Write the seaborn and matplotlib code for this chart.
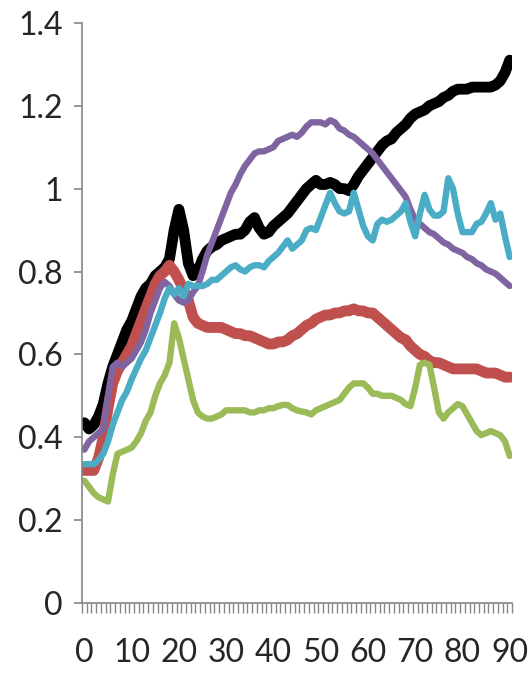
import numpy as np
import matplotlib
matplotlib.use("Agg")
import matplotlib.pyplot as plt
import seaborn as sns

x = list(range(91))

black = [0.435, 0.42, 0.43, 0.45, 0.48, 0.53, 0.57, 0.60, 0.63, 0.66,
         0.68, 0.71, 0.74, 0.76, 0.77, 0.79, 0.80, 0.81, 0.83, 0.90,
         0.95, 0.90, 0.82, 0.79, 0.80, 0.83, 0.85, 0.86, 0.865, 0.875,
         0.88, 0.885, 0.89, 0.89, 0.90, 0.92, 0.93, 0.905, 0.89, 0.895,
         0.91, 0.92, 0.93, 0.94, 0.955, 0.97, 0.985, 1.0, 1.01, 1.02,
         1.01, 1.01, 1.015, 1.01, 1.00, 1.00, 0.995, 1.01, 1.03, 1.045,
         1.06, 1.075, 1.09, 1.105, 1.115, 1.12, 1.135, 1.145, 1.155, 1.17,
         1.18, 1.185, 1.19, 1.20, 1.205, 1.21, 1.22, 1.225, 1.235, 1.24,
         1.24, 1.24, 1.245, 1.245, 1.245, 1.245, 1.245, 1.25, 1.26, 1.28,
         1.31]

red = [0.32, 0.32, 0.32, 0.35, 0.40, 0.47, 0.53, 0.56, 0.58, 0.60,
       0.62, 0.65, 0.68, 0.71, 0.74, 0.77, 0.79, 0.80, 0.815, 0.80,
       0.78, 0.755, 0.73, 0.69, 0.675, 0.67, 0.665, 0.665, 0.665, 0.665,
       0.66, 0.655, 0.65, 0.65, 0.645, 0.645, 0.64, 0.635, 0.63, 0.625,
       0.625, 0.63, 0.63, 0.635, 0.645, 0.65, 0.66, 0.67, 0.675, 0.685,
       0.69, 0.695, 0.695, 0.70, 0.70, 0.705, 0.705, 0.71, 0.705, 0.705,
       0.70, 0.70, 0.69, 0.68, 0.67, 0.66, 0.65, 0.64, 0.635, 0.62,
       0.61, 0.60, 0.595, 0.585, 0.58, 0.58, 0.575, 0.57, 0.565, 0.565,
       0.565, 0.565, 0.565, 0.565, 0.56, 0.555, 0.555, 0.555, 0.55, 0.545,
       0.545]

green = [0.295, 0.28, 0.265, 0.255, 0.25, 0.245, 0.31, 0.36, 0.365, 0.37,
         0.375, 0.39, 0.41, 0.44, 0.46, 0.50, 0.53, 0.55, 0.58, 0.675,
         0.64, 0.59, 0.54, 0.49, 0.46, 0.45, 0.445, 0.445, 0.45, 0.455,
         0.465, 0.465, 0.465, 0.465, 0.465, 0.46, 0.46, 0.465, 0.465, 0.47,
         0.47, 0.475, 0.478, 0.478, 0.47, 0.465, 0.462, 0.46, 0.455, 0.465,
         0.47, 0.475, 0.48, 0.485, 0.49, 0.505, 0.52, 0.53, 0.53, 0.53,
         0.52, 0.505, 0.505, 0.50, 0.50, 0.50, 0.495, 0.49, 0.48, 0.475,
         0.52, 0.575, 0.58, 0.575, 0.52, 0.46, 0.445, 0.46, 0.47, 0.48,
         0.475, 0.455, 0.435, 0.415, 0.405, 0.41, 0.415, 0.41, 0.405, 0.39,
         0.355]

purple = [0.37, 0.39, 0.40, 0.41, 0.42, 0.50, 0.57, 0.58, 0.57, 0.58,
          0.59, 0.61, 0.63, 0.66, 0.70, 0.73, 0.76, 0.775, 0.765, 0.745,
          0.73, 0.725, 0.73, 0.75, 0.765, 0.80, 0.84, 0.87, 0.90, 0.93,
          0.96, 0.99, 1.01, 1.035, 1.055, 1.07, 1.085, 1.09, 1.09, 1.095,
          1.10, 1.115, 1.12, 1.125, 1.13, 1.125, 1.135, 1.15, 1.16, 1.16,
          1.16, 1.155, 1.165, 1.16, 1.145, 1.14, 1.13, 1.125, 1.115, 1.105,
          1.095, 1.085, 1.07, 1.055, 1.04, 1.025, 1.01, 0.995, 0.98, 0.95,
          0.925, 0.915, 0.905, 0.895, 0.89, 0.88, 0.87, 0.865, 0.855, 0.85,
          0.845, 0.835, 0.83, 0.82, 0.815, 0.805, 0.80, 0.795, 0.785, 0.775,
          0.765]

cyan = [0.335, 0.335, 0.335, 0.345, 0.36, 0.39, 0.43, 0.46, 0.49, 0.51,
        0.54, 0.565, 0.59, 0.61, 0.64, 0.67, 0.70, 0.735, 0.76, 0.745,
        0.76, 0.74, 0.77, 0.765, 0.765, 0.765, 0.77, 0.78, 0.78, 0.79,
        0.80, 0.81, 0.815, 0.805, 0.80, 0.81, 0.815, 0.815, 0.81, 0.825,
        0.835, 0.845, 0.86, 0.875, 0.855, 0.865, 0.875, 0.90, 0.905, 0.90,
        0.93, 0.96, 0.99, 0.965, 0.945, 0.94, 0.945, 0.99, 0.95, 0.91,
        0.885, 0.875, 0.915, 0.925, 0.92, 0.925, 0.935, 0.945, 0.965, 0.92,
        0.885, 0.94, 0.985, 0.95, 0.935, 0.935, 0.945, 1.025, 1.00, 0.94,
        0.895, 0.895, 0.895, 0.915, 0.92, 0.94, 0.965, 0.925, 0.94, 0.885,
        0.835]

series = [
    (black, "#000000", 7.8),
    (red, "#C0504D", 7.8),
    (green, "#9BBB59", 4.6),
    (purple, "#8064A2", 4.6),
    (cyan, "#4BACC6", 4.6),
]

sns.set_style("white")
plt.rcParams['font.family'] = ['Lato', 'DejaVu Sans']

fig = plt.figure(figsize=(5.29, 6.73), dpi=100)
ax = fig.add_axes([0.155, 0.104, 0.813, 0.862])

for vals, col, lw in series:
    sns.lineplot(x=x, y=vals, color=col, linewidth=lw, ax=ax,
                 solid_joinstyle='round', solid_capstyle='round')

axis_col = "#868686"
ax.set_xlim(-0.5, 90.5)
ax.set_ylim(0, 1.4)
ax.set_yticks(np.arange(0, 1.41, 0.2))
ax.set_yticklabels(["0", "0.2", "0.4", "0.6", "0.8", "1", "1.2", "1.4"])
ax.set_xticks(range(0, 91, 10))
ax.set_xticks(np.arange(-0.5, 91, 1), minor=True)
ax.tick_params(axis='x', which='major', length=0, pad=25, labelsize=23)
ax.tick_params(axis='x', which='minor', length=7, width=1, color=axis_col, direction='out')
ax.tick_params(axis='y', length=6, width=1.2, color=axis_col, direction='out', pad=8, labelsize=23)
ax.tick_params(bottom=True, left=True, which='both')
for s in ["top", "right"]:
    ax.spines[s].set_visible(False)
for s in ["left", "bottom"]:
    ax.spines[s].set_color(axis_col)
    ax.spines[s].set_linewidth(1.2)
ax.grid(False)

fig.savefig("out.png", dpi=100)
